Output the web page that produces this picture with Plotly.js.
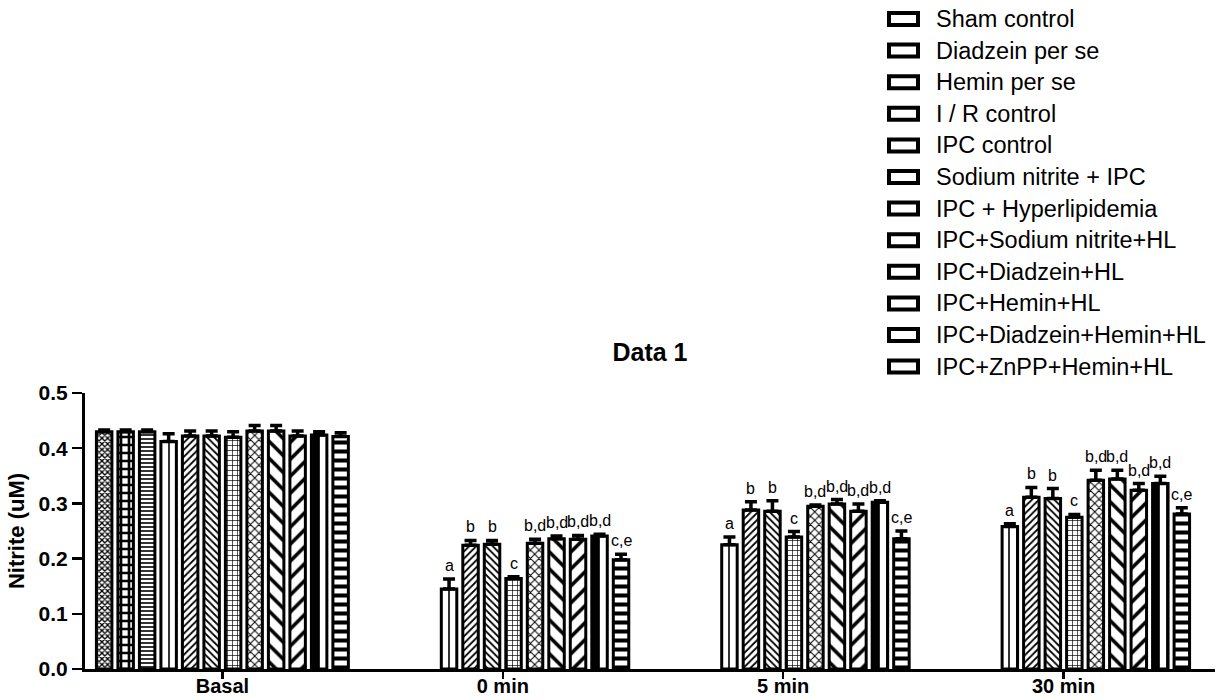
<!DOCTYPE html>
<html>
<head>
<meta charset="utf-8">
<script src="https://cdn.plot.ly/plotly-3.0.1.min.js"></script>
<style>html,body{margin:0;padding:0;background:#fff;}#chart{width:1224px;height:700px;}</style>
</head>
<body>
<div id="chart"></div>
<script>
// ---- data ----
const categories = ['Basal', '0 min', '5 min', '30 min'];
const seriesNames = ['Sham control', 'Diadzein per se', 'Hemin per se', 'I / R control', 'IPC control',
  'Sodium nitrite + IPC', 'IPC + Hyperlipidemia', 'IPC+Sodium nitrite+HL', 'IPC+Diadzein+HL',
  'IPC+Hemin+HL', 'IPC+Diadzein+Hemin+HL', 'IPC+ZnPP+Hemin+HL'];
// mean nitrite (uM) per series at each time point
const basal = [0.430, 0.430, 0.430, 0.412, 0.422, 0.422, 0.420, 0.431, 0.431, 0.422, 0.424, 0.421];
const min0  = [null, null, null, 0.145, 0.224, 0.226, 0.164, 0.228, 0.236, 0.235, 0.241, 0.198];
const min5  = [null, null, null, 0.225, 0.288, 0.286, 0.239, 0.295, 0.299, 0.286, 0.302, 0.236];
const min30 = [null, null, null, 0.258, 0.311, 0.309, 0.275, 0.342, 0.344, 0.324, 0.336, 0.281];
// SEM (upper error bars)
const basalErr = [0.003, 0.003, 0.003, 0.014, 0.009, 0.009, 0.010, 0.010, 0.010, 0.009, 0.006, 0.007];
const min0Err  = [null, null, null, 0.018, 0.009, 0.007, 0.003, 0.007, 0.005, 0.007, 0.003, 0.010];
const min5Err  = [null, null, null, 0.014, 0.015, 0.019, 0.010, 0.002, 0.008, 0.013, 0.003, 0.014];
const min30Err = [null, null, null, 0.005, 0.018, 0.018, 0.005, 0.018, 0.016, 0.012, 0.013, 0.011];
// significance letters
const basalSig = ['', '', '', '', '', '', '', '', '', '', '', ''];
const min0Sig  = ['', '', '', 'a', 'b', 'b', 'c', 'b,d', 'b,d', 'b,d', 'b,d', 'c,e'];
const min5Sig  = ['', '', '', 'a', 'b', 'b', 'c', 'b,d', 'b,d', 'b,d', 'b,d', 'c,e'];
const min30Sig = ['', '', '', 'a', 'b', 'b', 'c', 'b,d', 'b,d', 'b,d', 'b,d', 'c,e'];

// ---- styles ----
const FONT = 'Liberation Sans, Arial, sans-serif';
const patterns = [
  {shape: 'x', size: 4, solidity: 0.55},
  {shape: '+', size: 8, solidity: 0.55},
  {shape: '-', size: 4, solidity: 0.4},
  {shape: '|', size: 8, solidity: 0.2},
  {shape: '/', size: 5, solidity: 0.35},
  {shape: '\\', size: 5, solidity: 0.35},
  {shape: '+', size: 5, solidity: 0.25},
  {shape: 'x', size: 6, solidity: 0.3},
  {shape: '\\', size: 12, solidity: 0.3},
  {shape: '/', size: 12, solidity: 0.3},
  {shape: '|', size: 14, solidity: 0.55},
  {shape: '-', size: 9, solidity: 0.45}
];

const allVals = [basal, min0, min5, min30];
const allErr = [basalErr, min0Err, min5Err, min30Err];
const allSig = [basalSig, min0Sig, min5Sig, min30Sig];

const nS = seriesNames.length;
const bargap = 0.08;
const traces = seriesNames.map((name, i) => ({
  type: 'bar',
  name: name,
  x: categories,
  y: allVals.map(a => a[i]),
  error_y: {type: 'data', symmetric: false, array: allErr.map(a => a[i]), arrayminus: allErr.map(a => 0),
            color: '#000', thickness: 3.5, width: 6},
  marker: {color: '#fff', line: {color: '#000', width: 3},
           pattern: Object.assign({fgcolor: '#000', bgcolor: '#fff', fillmode: 'replace'}, patterns[i])},
  showlegend: false,
  hoverinfo: 'skip'
}));

const annotations = [];
const slot = (1 - bargap) / nS;
allSig.forEach((sigs, c) => {
  sigs.forEach((s, i) => {
    if (!s) return;
    annotations.push({
      x: c - (1 - bargap) / 2 + (i + 0.5) * slot, xref: 'x',
      y: allVals[c][i] + allErr[c][i], yref: 'y',
      text: s, showarrow: false, yanchor: 'bottom', yshift: 3,
      font: {family: FONT, size: 16, color: '#000'}
    });
  });
});

// custom legend (hollow rectangles + labels)
const L = 85, R = 1215, T = 393, B = 669;
const pw = R - L, ph = B - T;
const shapes = [];
seriesNames.forEach((name, i) => {
  const cy = 19 + i * 31.6;
  shapes.push({type: 'rect', xref: 'paper', yref: 'paper',
    x0: (889 - L) / pw, x1: (918 - L) / pw, y0: (B - (cy - 6)) / ph, y1: (B - (cy + 6)) / ph,
    line: {color: '#000', width: 4}, fillcolor: '#fff'});
  annotations.push({xref: 'paper', yref: 'paper', x: (934 - L) / pw, y: (B - cy) / ph,
    xanchor: 'left', yanchor: 'middle', showarrow: false, text: name,
    font: {family: FONT, size: 23.5, color: '#000'}});
});

const layout = {
  width: 1224, height: 700,
  margin: {l: L, r: 1224 - R, t: T, b: 700 - B},
  paper_bgcolor: '#fff', plot_bgcolor: '#fff',
  barmode: 'group', bargap: bargap, bargroupgap: 0.28,
  title: {text: '<b>Data 1</b>', x: 0.5, xref: 'paper', y: 1 - 352 / 700, yanchor: 'middle',
          font: {family: FONT, size: 25, color: '#000'}},
  xaxis: {type: 'category', range: [-0.49, 3.54], showline: true, linecolor: '#000', linewidth: 3,
          ticks: 'outside', ticklen: 7, tickwidth: 2.5, tickcolor: '#000', showgrid: false, zeroline: false,
          ticklabelstandoff: -10,
          tickfont: {family: FONT, size: 20, color: '#000', weight: 'bold'}},
  yaxis: {range: [0, 0.5], dtick: 0.1, tickformat: '.1f', showline: true, linecolor: '#000', linewidth: 3,
          ticks: 'outside', ticklen: 10, tickwidth: 2.5, tickcolor: '#000', showgrid: false, zeroline: false,
          ticklabelstandoff: 0,
          tickfont: {family: FONT, size: 21, color: '#000', weight: 'bold'},
          title: {text: '<b>Nitrite (uM)</b>', standoff: 8,
                  font: {family: FONT, size: 22, color: '#000'}}},
  annotations: annotations,
  shapes: shapes,
  showlegend: false
};

Plotly.newPlot('chart', traces, layout, {displayModeBar: false, staticPlot: true});
</script>
</body>
</html>
